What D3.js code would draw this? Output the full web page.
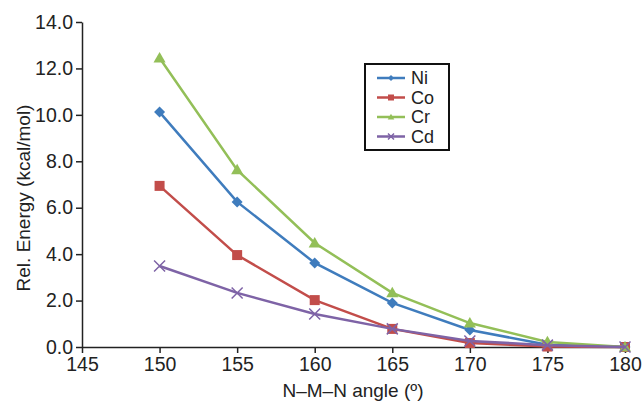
<!DOCTYPE html>
<html>
<head>
<meta charset="utf-8">
<script src="https://cdn.jsdelivr.net/npm/d3@7"></script>
<style>
  body { margin: 0; background: #fff; }
  svg { display: block; font-family: "Liberation Sans", Arial, sans-serif; }
</style>
</head>
<body>
<svg id="chart" width="642" height="402"></svg>
<script>
// Data
const angles = [150, 155, 160, 165, 170, 175, 180];
const seriesNames = ["Ni", "Co", "Cr", "Cd"];
const niValues = [10.12, 6.25, 3.62, 1.90, 0.73, 0.10, 0.0];
const coValues = [6.94, 3.96, 2.02, 0.78, 0.17, 0.02, 0.0];
const crValues = [12.45, 7.63, 4.48, 2.33, 1.03, 0.22, 0.0];
const cdValues = [3.49, 2.33, 1.42, 0.78, 0.26, 0.08, 0.0];
const xTicks = [145, 150, 155, 160, 165, 170, 175, 180];
const yTicks = [0, 2, 4, 6, 8, 10, 12, 14];

const colors = { Ni: "#3f7cbd", Co: "#c24d4a", Cr: "#93bf58", Cd: "#7e63a6" };
const markers = { Ni: "diamond", Co: "square", Cr: "triangle", Cd: "cross" };
const valuesBySeries = { Ni: niValues, Co: coValues, Cr: crValues, Cd: cdValues };

const svg = d3.select("#chart");
const margin = { left: 82, right: 17, top: 22, bottom: 55 };
const width = 642, height = 402;

const x = d3.scaleLinear().domain([145, 180]).range([margin.left, width - margin.right]);
const y = d3.scaleLinear().domain([0, 14]).range([height - margin.bottom, margin.top]);

// Axes
const xAxis = svg.append("g")
    .attr("transform", `translate(0,${y(0)})`)
    .call(d3.axisBottom(x).tickValues(xTicks).tickSize(6).tickPadding(4).tickSizeOuter(0));
const yAxis = svg.append("g")
    .attr("transform", `translate(${x(145)},0)`)
    .call(d3.axisLeft(y).tickValues(yTicks).tickSize(6).tickPadding(3).tickSizeOuter(0)
        .tickFormat(d3.format(".1f")));

[xAxis, yAxis].forEach(g => {
    g.selectAll("path, line").attr("stroke", "#222").attr("stroke-width", 1.5);
    g.selectAll("text").attr("fill", "#222").style("font-size", "19.5px")
        .style("font-family", "'Liberation Sans', Arial, sans-serif");
});

// Axis titles
svg.append("text")
    .attr("x", 353).attr("y", 397)
    .attr("text-anchor", "middle")
    .attr("fill", "#222")
    .style("font-size", "19px")
    .text("N\u2013M\u2013N angle (\u00ba)");

svg.append("text")
    .attr("transform", "translate(30,198) rotate(-90)")
    .attr("text-anchor", "middle")
    .attr("fill", "#222")
    .style("font-size", "19px")
    .text("Rel. Energy (kcal/mol)");

// Marker drawing
function drawMarker(g, type, color, cx, cy, size) {
    if (type === "diamond") {
        g.append("path")
            .attr("d", `M${cx},${cy - size}L${cx + size},${cy}L${cx},${cy + size}L${cx - size},${cy}Z`)
            .attr("fill", color);
    } else if (type === "square") {
        g.append("rect")
            .attr("x", cx - size).attr("y", cy - size)
            .attr("width", size * 2).attr("height", size * 2)
            .attr("fill", color);
    } else if (type === "triangle") {
        g.append("path")
            .attr("d", `M${cx},${cy - size * 1.1}L${cx + size * 1.1},${cy + size * 0.8}L${cx - size * 1.1},${cy + size * 0.8}Z`)
            .attr("fill", color);
    } else {
        g.append("path")
            .attr("d", `M${cx - size},${cy - size}L${cx + size},${cy + size}M${cx - size},${cy + size}L${cx + size},${cy - size}`)
            .attr("stroke", color).attr("stroke-width", 1.5).attr("fill", "none");
    }
}

const line = d3.line().x(d => x(d[0])).y(d => y(d[1]));

seriesNames.forEach(name => {
    const pts = angles.map((a, i) => [a, valuesBySeries[name][i]]);
    const g = svg.append("g");
    g.append("path")
        .datum(pts)
        .attr("d", line)
        .attr("fill", "none")
        .attr("stroke", colors[name])
        .attr("stroke-width", 2.5);
    pts.forEach(p => {
        const size = markers[name] === "square" ? 5 : 5.5;
        drawMarker(g, markers[name], colors[name], x(p[0]), y(p[1]), size);
    });
});

// Legend
const legend = svg.append("g").attr("transform", "translate(365,64)");
legend.append("rect")
    .attr("width", 84).attr("height", 86)
    .attr("fill", "#fff").attr("stroke", "#111").attr("stroke-width", 2);
seriesNames.forEach((name, i) => {
    const ly = 14 + i * 19.5;
    legend.append("line")
        .attr("x1", 12).attr("x2", 40).attr("y1", ly).attr("y2", ly)
        .attr("stroke", colors[name]).attr("stroke-width", 2.5);
    drawMarker(legend, markers[name], colors[name], 26, ly, 3);
    legend.append("text")
        .attr("x", 46).attr("y", ly).attr("dy", "0.35em")
        .attr("fill", "#222")
        .style("font-size", "18px")
        .text(name);
});
</script>
</body>
</html>
